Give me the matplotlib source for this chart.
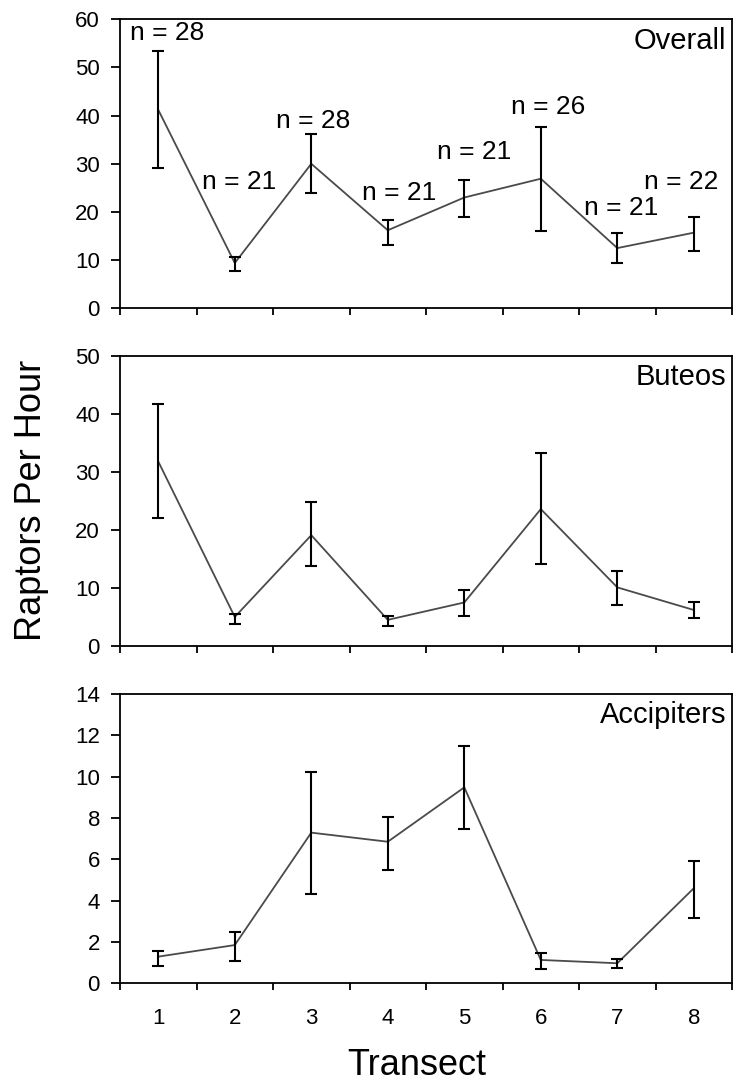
#encoding:utf-8
import matplotlib
matplotlib.use('Agg')
import matplotlib.pyplot as plt
import numpy as np

plt.rcParams['font.family'] = ['Liberation Sans', 'DejaVu Sans']

transect = [1, 2, 3, 4, 5, 6, 7, 8]

# Overall
overall = [41.2, 9.4, 30.0, 16.2, 23.0, 26.9, 12.5, 15.7]
overall_hi = [53.4, 10.6, 36.2, 18.4, 26.7, 37.6, 15.6, 19.0]
overall_lo = [29.2, 7.8, 23.9, 13.2, 18.9, 16.1, 9.4, 11.8]
n_obs = [28, 21, 28, 21, 21, 26, 21, 22]

# Buteos
buteos = [31.8, 5.0, 19.1, 4.5, 7.5, 23.6, 10.1, 6.2]
buteos_hi = [41.7, 5.5, 24.9, 5.2, 9.7, 33.2, 12.9, 7.5]
buteos_lo = [22.0, 3.8, 13.8, 3.4, 5.2, 14.1, 7.0, 4.9]

# Accipiters
accip = [1.29, 1.85, 7.29, 6.85, 9.48, 1.13, 0.97, 4.6]
accip_hi = [1.56, 2.47, 10.24, 8.03, 11.48, 1.48, 1.16, 5.93]
accip_lo = [0.85, 1.08, 4.32, 5.48, 7.45, 0.69, 0.76, 3.15]

# where the n labels sit (layout only)
nlab_x = [1.11, 2.06, 3.02, 4.15, 5.13, 6.10, 7.05, 7.83]
nlab_y = [57.2, 26.3, 38.9, 24.0, 32.5, 41.8, 20.8, 26.3]

fig = plt.figure(figsize=(7.35, 10.84), dpi=100)
W = 0.8327
rects = [[0.1633, 0.7156, W, 0.2666],
         [0.1633, 0.4041, W, 0.2675],
         [0.1633, 0.0929, W, 0.2669]]

panels = [("Overall", overall, overall_lo, overall_hi, 60, 10),
          ("Buteos", buteos, buteos_lo, buteos_hi, 50, 10),
          ("Accipiters", accip, accip_lo, accip_hi, 14, 2)]

x = np.array(transect)
for k in range(3):
	name, m, lo, hi, top, step = panels[k]
	ax = fig.add_axes(rects[k])
	m = np.array(m); lo = np.array(lo); hi = np.array(hi)
	ax.plot(x, m, color='#4a4a4a', lw=1.3, zorder=2)
	ax.errorbar(x, m, yerr=[m - lo, hi - m], fmt='none', ecolor='black',
	            elinewidth=1.5, capsize=4, capthick=1.5, zorder=3)
	ax.set_xlim(0.5, 8.5)
	ax.set_ylim(0, top)
	ax.set_yticks(np.arange(0, top + 0.1, step))
	ax.set_xticks(np.arange(0.5, 8.6, 1))
	ax.set_xticks(x, minor=True)
	ax.tick_params(axis='x', which='major', direction='out', length=5, width=1.3, labelbottom=False)
	ax.tick_params(axis='x', which='minor', length=0, pad=18, labelsize=16)
	ax.tick_params(axis='y', direction='out', length=6.5, width=1.3, pad=8, labelsize=16)
	ax.tick_params(top=False, right=False)
	if k == 2:
		ax.set_xticklabels([str(t) for t in transect], minor=True)
	else:
		ax.set_xticklabels([], minor=True)
	for s in ax.spines.values():
		s.set_linewidth(1.3)
	ax.text(0.99, 0.975, name, transform=ax.transAxes, ha='right', va='top', fontsize=21)
	if k == 0:
		for i in range(len(n_obs)):
			ax.text(nlab_x[i], nlab_y[i], "n = %d" % n_obs[i], ha='center', va='center',
			        fontsize=19, clip_on=False)

fig.text(0.043, 0.538, "Raptors Per Hour", rotation=90, ha='center', va='center', fontsize=26)
fig.text(0.567, 0.0083, "Transect", ha='center', va='baseline', fontsize=26)

fig.savefig('out.png', dpi=100)
